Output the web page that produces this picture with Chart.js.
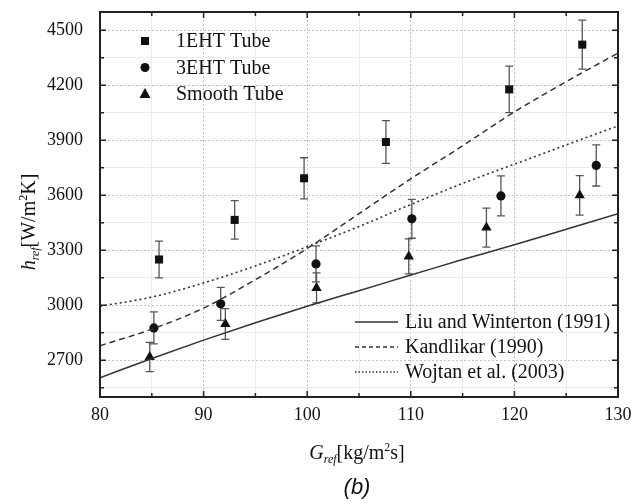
<!DOCTYPE html>
<html>
<head>
<meta charset="utf-8">
<script src="https://cdn.jsdelivr.net/npm/chart.js@4.4.1/dist/chart.umd.min.js"></script>
<style>
  html, body { margin: 0; padding: 0; background: #fff; }
  #wrap { width: 634px; height: 504px; }
</style>
</head>
<body>
<div id="wrap"><canvas id="hChart" width="634" height="504"></canvas></div>
<script>
// measured points (G_ref, h_ref, error bar half-length)
const g1EHT = [85.7, 93.0, 99.7, 107.6, 119.5, 126.55];
const h1EHT = [3250, 3466, 3693, 3891, 4178, 4422];
const e1EHT = [100, 105, 112, 117, 127, 134];

const g3EHT = [85.2, 91.65, 100.85, 110.1, 118.7, 127.9];
const h3EHT = [2877, 3008, 3226, 3472, 3597, 3763];
const e3EHT = [87, 90, 98, 106, 109, 112];

const gSmooth = [84.8, 92.1, 100.9, 109.8, 117.3, 126.3];
const hSmooth = [2718, 2898, 3095, 3267, 3424, 3600];
const eSmooth = [80, 84, 82, 95, 106, 108];

// correlations
const gCurve = [80, 85, 90, 95, 100, 105, 110, 115, 120, 125, 130];
const hLiu = [2605, 2710, 2810, 2905, 2995, 3080, 3165, 3250, 3330, 3415, 3500];
const hKandlikar = [2780, 2870, 2985, 3140, 3310, 3500, 3690, 3870, 4055, 4220, 4376];
const hWojtan = [2995, 3045, 3122, 3215, 3320, 3430, 3550, 3665, 3770, 3875, 3978];

// axis ticks
const xTicks = [80, 85, 90, 95, 100, 105, 110, 115, 120, 125, 130];
const yTicks = [2550, 2700, 2850, 3000, 3150, 3300, 3450, 3600, 3750, 3900, 4050, 4200, 4350, 4500];

const pts = (xs, ys) => xs.map((x, i) => ({ x: x, y: ys[i] }));
const isMajorX = v => v % 10 === 0;
const isMajorY = v => (v - 2700) % 300 === 0;
const serif = '"Liberation Serif", "Times New Roman", serif';

// error bars under the markers
const errorBars = {
  id: 'errorBars',
  beforeDatasetDraw(chart, args) {
    const ds = chart.data.datasets[args.index];
    if (!ds.errors) return;
    const ctx = chart.ctx, xs = chart.scales.x, ys = chart.scales.y;
    ctx.save();
    ctx.strokeStyle = '#555';
    ctx.lineWidth = 1.3;
    ds.data.forEach((p, i) => {
      const px = xs.getPixelForValue(p.x);
      const top = ys.getPixelForValue(p.y + ds.errors[i]);
      const bot = ys.getPixelForValue(p.y - ds.errors[i]);
      ctx.beginPath();
      ctx.moveTo(px, top); ctx.lineTo(px, bot);
      ctx.moveTo(px - 4, top); ctx.lineTo(px + 4, top);
      ctx.moveTo(px - 4, bot); ctx.lineTo(px + 4, bot);
      ctx.stroke();
    });
    ctx.restore();
  }
};

function marker(ctx, style, x, y) {
  ctx.beginPath();
  if (style === 'rect') {
    ctx.rect(x - 4, y - 4, 8, 8);
  } else if (style === 'circle') {
    ctx.arc(x, y, 4.5, 0, Math.PI * 2);
  } else {
    ctx.moveTo(x, y - 6);
    ctx.lineTo(x + 5.5, y + 4);
    ctx.lineTo(x - 5.5, y + 4);
    ctx.closePath();
  }
  ctx.fill();
}

// draws text pieces with sub/superscripts, centred on cx
function richText(ctx, parts, cx, baseY) {
  let w = 0;
  parts.forEach(p => { ctx.font = p.font; w += ctx.measureText(p.t).width; });
  let x = cx - w / 2;
  parts.forEach(p => {
    ctx.font = p.font;
    ctx.fillText(p.t, x, baseY + (p.dy || 0));
    x += ctx.measureText(p.t).width;
  });
}

const decorations = {
  id: 'decorations',
  afterDraw(chart) {
    const ctx = chart.ctx, a = chart.chartArea;
    const xs = chart.scales.x, ys = chart.scales.y;
    ctx.save();
    // frame
    ctx.strokeStyle = '#222';
    ctx.lineWidth = 2;
    ctx.strokeRect(a.left, a.top, a.right - a.left, a.bottom - a.top);
    // inward ticks on all sides
    ctx.lineWidth = 1.5;
    ctx.beginPath();
    xTicks.forEach(v => {
      const px = xs.getPixelForValue(v), len = isMajorX(v) ? 6 : 4;
      ctx.moveTo(px, a.bottom); ctx.lineTo(px, a.bottom - len);
      ctx.moveTo(px, a.top); ctx.lineTo(px, a.top + len);
    });
    yTicks.forEach(v => {
      const py = ys.getPixelForValue(v), len = isMajorY(v) ? 6 : 4;
      ctx.moveTo(a.left, py); ctx.lineTo(a.left + len, py);
      ctx.moveTo(a.right, py); ctx.lineTo(a.right - len, py);
    });
    ctx.stroke();

    // legend: symbols
    ctx.textBaseline = 'middle';
    const symRows = [['rect', '1EHT Tube'], ['circle', '3EHT Tube'], ['triangle', 'Smooth Tube']];
    symRows.forEach((r, i) => {
      const y = 41 + i * 26.5;
      ctx.fillStyle = '#111';
      marker(ctx, r[0], 145, y);
      ctx.font = '20px ' + serif;
      ctx.fillText(r[1], 176, y + 1);
    });

    // legend: correlations
    const lineRows = [[[], 'Liu and Winterton (1991)'], [[4, 3], 'Kandlikar (1990)'], [[1.5, 2], 'Wojtan et al. (2003)']];
    lineRows.forEach((r, i) => {
      const y = 322 + i * 25;
      ctx.strokeStyle = '#333';
      ctx.lineWidth = 1.3;
      ctx.setLineDash(r[0]);
      ctx.beginPath();
      ctx.moveTo(355, y); ctx.lineTo(398, y);
      ctx.stroke();
      ctx.setLineDash([]);
      ctx.font = '20px ' + serif;
      ctx.fillStyle = '#111';
      ctx.fillText(r[1], 405, y + 1);
    });

    // axis titles
    ctx.textBaseline = 'alphabetic';
    ctx.fillStyle = '#111';
    const big = '20px ' + serif, bigI = 'italic 20px ' + serif, small = '12px ' + serif, smallI = 'italic 12px ' + serif;
    richText(ctx, [
      { t: 'G', font: bigI }, { t: 'ref', font: smallI, dy: 4 },
      { t: '[kg/m', font: big }, { t: '2', font: small, dy: -8 }, { t: 's]', font: big }
    ], 357, 459);

    ctx.save();
    ctx.translate(35, 222);
    ctx.rotate(-Math.PI / 2);
    richText(ctx, [
      { t: 'h', font: bigI }, { t: 'ref', font: smallI, dy: 4 },
      { t: '[W/m', font: big }, { t: '2', font: small, dy: -8 }, { t: 'K]', font: big }
    ], 0, 0);
    ctx.restore();

    // panel label
    ctx.font = 'italic 22px "Liberation Sans", Arial, sans-serif';
    ctx.textAlign = 'center';
    ctx.fillText('(b)', 357, 494);
    ctx.restore();
  }
};

const ctx = document.getElementById('hChart').getContext('2d');

new Chart(ctx, {
  type: 'scatter',
  data: {
    datasets: [
      {
        label: 'Liu and Winterton (1991)', data: pts(gCurve, hLiu), showLine: true,
        cubicInterpolationMode: 'monotone',
        borderColor: '#333', borderWidth: 1.5, pointRadius: 0, fill: false
      },
      {
        label: 'Kandlikar (1990)', data: pts(gCurve, hKandlikar), showLine: true,
        cubicInterpolationMode: 'monotone',
        borderColor: '#333', borderWidth: 1.5, borderDash: [6, 4], pointRadius: 0, fill: false
      },
      {
        label: 'Wojtan et al. (2003)', data: pts(gCurve, hWojtan), showLine: true,
        cubicInterpolationMode: 'monotone',
        borderColor: '#333', borderWidth: 1.6, borderDash: [2, 3], pointRadius: 0, fill: false
      },
      {
        label: '1EHT Tube', data: pts(g1EHT, h1EHT), errors: e1EHT,
        pointStyle: 'rect', pointRadius: 5.7, backgroundColor: '#111', borderColor: '#111', borderWidth: 0
      },
      {
        label: '3EHT Tube', data: pts(g3EHT, h3EHT), errors: e3EHT,
        pointStyle: 'circle', pointRadius: 4.6, backgroundColor: '#111', borderColor: '#111', borderWidth: 0
      },
      {
        label: 'Smooth Tube', data: pts(gSmooth, hSmooth), errors: eSmooth,
        pointStyle: 'triangle', pointRadius: 6, backgroundColor: '#111', borderColor: '#111', borderWidth: 0
      }
    ]
  },
  options: {
    responsive: false,
    animation: false,
    layout: { padding: { top: 12, right: 16, left: 0, bottom: 0 } },
    plugins: {
      legend: { display: false },
      tooltip: { enabled: false }
    },
    scales: {
      x: {
        type: 'linear', min: 80, max: 130,
        afterBuildTicks: s => { s.ticks = xTicks.map(v => ({ value: v })); },
        afterFit: s => { s.height = 107; s.paddingLeft = 0; s.paddingRight = 0; },
        ticks: {
          callback: v => isMajorX(v) ? v : '',
          font: { family: serif, size: 18 }, color: '#111', padding: 7, maxRotation: 0, autoSkip: false
        },
        grid: {
          drawTicks: false,
          color: c => (c.tick && isMajorX(c.tick.value)) ? '#c4c4c4' : '#ececec'
        },
        border: {
          display: false,
          dash: c => (c.tick && isMajorX(c.tick.value)) ? [2, 2] : []
        }
      },
      y: {
        type: 'linear', min: 2500, max: 4600,
        afterBuildTicks: s => { s.ticks = yTicks.map(v => ({ value: v })); },
        afterFit: s => { s.width = 100; s.paddingTop = 0; s.paddingBottom = 0; },
        ticks: {
          callback: v => isMajorY(v) ? v : '',
          font: { family: serif, size: 18 }, color: '#111', padding: 17, autoSkip: false
        },
        grid: {
          drawTicks: false,
          color: c => (c.tick && isMajorY(c.tick.value)) ? '#c4c4c4' : '#ececec'
        },
        border: {
          display: false,
          dash: c => (c.tick && isMajorY(c.tick.value)) ? [2, 2] : []
        }
      }
    }
  },
  plugins: [errorBars, decorations]
});
</script>
</body>
</html>
